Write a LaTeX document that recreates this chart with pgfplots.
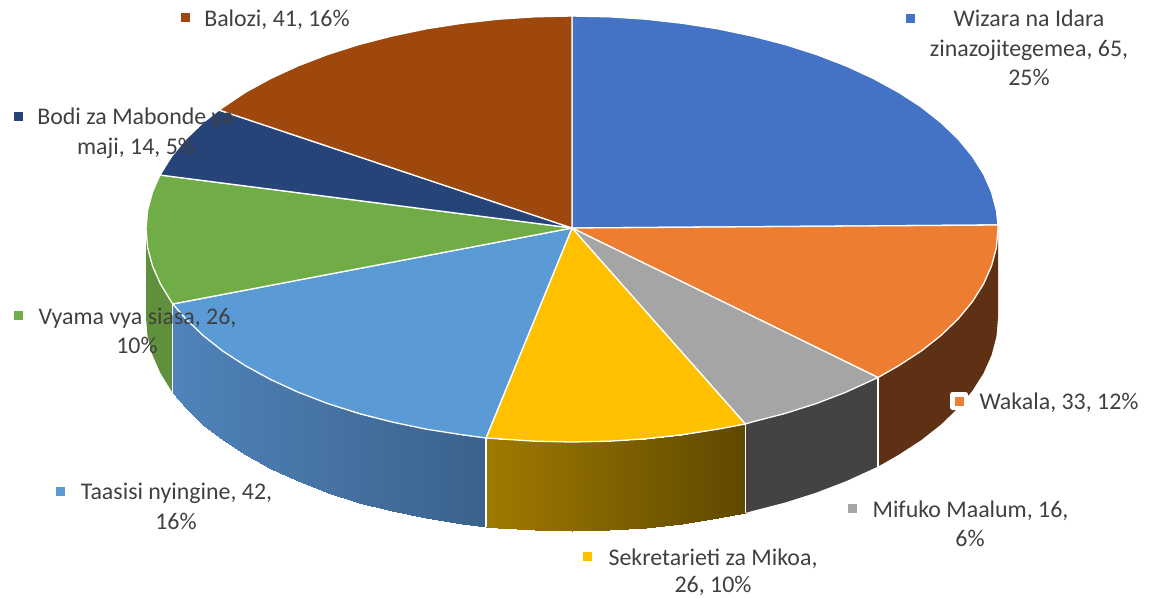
\documentclass[border=0pt]{standalone}
\usepackage{fontspec}
\setmainfont{Carlito}
\usepackage{pgfplots}
\pgfplotsset{compat=1.18}
\definecolor{cWiz}{HTML}{4472C4}
\definecolor{cWak}{HTML}{ED7D31}
\definecolor{cMif}{HTML}{A5A5A5}
\definecolor{cSek}{HTML}{FFC000}
\definecolor{cTaa}{HTML}{5B9BD5}
\definecolor{cVya}{HTML}{70AD47}
\definecolor{cBod}{HTML}{264478}
\definecolor{cBal}{HTML}{9E480E}
\definecolor{wWak}{HTML}{5F3114}
\definecolor{wMif}{HTML}{434343}
\definecolor{wVya}{HTML}{5F913C}
\definecolor{txt}{HTML}{404040}
\tikzset{
  lab/.style={font=\fontsize{23.9}{26}\selectfont,text=txt,anchor=base,inner sep=0pt},
  top/.style={draw=white,line width=1.3pt,line join=round},
  wall/.style={draw=none}}
\begin{document}
\begin{tikzpicture}
\path[use as bounding box] (0,0) rectangle (1150pt,597pt);
\begin{axis}[at={(0,0)},anchor=south west,width=1150pt,height=597pt,scale only axis,
  xmin=0,xmax=1150,ymin=0,ymax=597,y dir=reverse,hide axis,clip=false,
  point meta rel=per plot]
% walls
\addplot[wall,fill=wWak] coordinates {(998,229)(996.4,247.6)(991.5,266)(983.5,284.1)(972.3,301.8)(958.1,319)(940.9,335.5)(921,351.2)(898.3,365.9)(878,377.5)
 (878,466.5)(898.3,454.9)(921,440.2)(940.9,424.5)(958.1,408)(972.3,390.8)(983.5,373.1)(991.5,355)(996.4,336.6)(998,318)} -- cycle;
\addplot[wall,fill=wMif] coordinates {(878,377.5)(845.8,392.2)(816.4,403.5)(785,413.5)(752,422)(745.3,424)
 (745.3,513)(752,511)(785,502.5)(816.4,492.5)(845.8,481.2)(878,466.5)} -- cycle;
\addplot[wall,fill=wVya] coordinates {(146,229)(147.6,247.6)(152.5,266)(160.5,284.1)(172.7,304)
 (172.7,393)(160.5,373.1)(152.5,355)(147.6,336.6)(146,318)} -- cycle;
\addplot[surf,shader=interp,mesh/rows=2,point meta=x,
  colormap={sek}{rgb255(0cm)=(160,122,0) rgb255(1cm)=(95,72,0)}]
 coordinates {(486,438)(498,438.8)(534.9,441.2)(572,442)(609.1,441.2)(646,438.8)(682.3,434.7)(717.7,429.2)(745.3,424)
 (486,527)(498,527.8)(534.9,530.2)(572,531)(609.1,530.2)(646,527.8)(682.3,523.7)(717.7,518.2)(745.3,513)};
\addplot[surf,shader=interp,mesh/rows=2,point meta=x,
  colormap={taa}{rgb255(0cm)=(80,131,186) rgb255(1cm)=(58,98,140)}]
 coordinates {(172.7,304)(185.9,319)(203.1,335.5)(223,351.2)(245.7,365.9)(270.8,379.6)(298.2,392.2)(327.6,403.5)(359,413.5)(392,422)(426.3,429.2)(461.7,434.7)(486,438)
 (172.7,393)(185.9,408)(203.1,424.5)(223,440.2)(245.7,454.9)(270.8,468.6)(298.2,481.2)(327.6,492.5)(359,502.5)(392,511)(426.3,518.2)(461.7,523.7)(486,527)};
% white seams between walls
\addplot[white,line width=1.2pt] coordinates {(172.7,304)(172.7,393)};
\addplot[white,line width=1.2pt] coordinates {(486,438)(486,527)};
\addplot[white,line width=1.2pt] coordinates {(745.3,424)(745.3,513)};
\addplot[white,line width=1.2pt] coordinates {(878,377.5)(878,466.5)};
% top slices
\addplot[top,fill=cWiz] coordinates {(572,228)(572,16)(609.1,16.8)(646,19.2)(682.3,23.3)(717.7,28.8)(752,36)(785,44.5)(816.4,54.5)(845.8,65.8)(873.2,78.4)(898.3,92.1)(921,106.8)(940.9,122.5)(958.1,139)(972.3,156.2)(983.5,173.9)(991.5,192)(996.4,210.4)(998,225)} -- cycle;
\addplot[top,fill=cWak] coordinates {(572,228)(998,225)(998,229)(996.4,247.6)(991.5,266)(983.5,284.1)(972.3,301.8)(958.1,319)(940.9,335.5)(921,351.2)(898.3,365.9)(878,377.5)} -- cycle;
\addplot[top,fill=cMif] coordinates {(572,228)(878,377.5)(845.8,392.2)(816.4,403.5)(785,413.5)(752,422)(745.3,424)} -- cycle;
\addplot[top,fill=cSek] coordinates {(572,228)(745.3,424)(717.7,429.2)(682.3,434.7)(646,438.8)(609.1,441.2)(572,442)(534.9,441.2)(498,438.8)(486,438)} -- cycle;
\addplot[top,fill=cTaa] coordinates {(572,228)(486,438)(461.7,434.7)(426.3,429.2)(392,422)(359,413.5)(327.6,403.5)(298.2,392.2)(270.8,379.6)(245.7,365.9)(223,351.2)(203.1,335.5)(185.9,319)(172.7,304)} -- cycle;
\addplot[top,fill=cVya] coordinates {(572,228)(172.7,304)(160.5,284.1)(152.5,266)(147.6,247.6)(146,229)(147.6,210.4)(152.5,192)(160,175)} -- cycle;
\addplot[top,fill=cBod] coordinates {(572,228)(160,175)(171.7,156.2)(185.9,139)(203.1,122.5)(219,110)} -- cycle;
\addplot[top,fill=cBal] coordinates {(572,228)(219,110)(245.7,92.1)(270.8,78.4)(298.2,65.8)(327.6,54.5)(359,44.5)(392,36)(426.3,28.8)(461.7,23.3)(498,19.2)(534.9,16.8)(572,16)} -- cycle;
% white box behind Wakala key
\node[fill=white,rounded corners=2.5pt,minimum size=18pt,inner sep=0pt] at (axis cs:959,401) {};
% label keys
\addplot[only marks,mark=square*,mark size=3.9pt,color=cWiz] coordinates {(910,18)};
\addplot[only marks,mark=square*,mark size=3.9pt,color=cWak] coordinates {(959,401)};
\addplot[only marks,mark=square*,mark size=3.9pt,color=cMif] coordinates {(852,508)};
\addplot[only marks,mark=square*,mark size=3.9pt,color=cSek] coordinates {(587,556)};
\addplot[only marks,mark=square*,mark size=3.9pt,color=cTaa] coordinates {(60,491)};
\addplot[only marks,mark=square*,mark size=3.9pt,color=cVya] coordinates {(18,315)};
\addplot[only marks,mark=square*,mark size=3.9pt,color=cBod] coordinates {(18,116)};
\addplot[only marks,mark=square*,mark size=3.9pt,color=cBal] coordinates {(185,17)};
% labels
\node[lab] at (axis cs:1029,26) {Wizara na Idara};
\node[lab] at (axis cs:1029,56) {zinazojitegemea, 65,};
\node[lab] at (axis cs:1029,85) {25\%};
\node[lab] at (axis cs:277,26) {Balozi, 41, 16\%};
\node[lab] at (axis cs:135.5,124) {Bodi za Mabonde ya};
\node[lab] at (axis cs:136,154) {maji, 14, 5\%};
\node[lab] at (axis cs:137.5,324) {Vyama vya siasa, 26,};
\node[lab] at (axis cs:137,353) {10\%};
\node[lab] at (axis cs:176.5,499) {Taasisi nyingine, 42,};
\node[lab] at (axis cs:176,529) {16\%};
\node[lab] at (axis cs:713,565) {Sekretarieti za Mikoa,};
\node[lab] at (axis cs:713,592.5) {26, 10\%};
\node[lab] at (axis cs:970.5,517) {Mifuko Maalum, 16,};
\node[lab] at (axis cs:970,546) {6\%};
\node[lab] at (axis cs:1059,409) {Wakala, 33, 12\%};
\end{axis}
\end{tikzpicture}
\end{document}
